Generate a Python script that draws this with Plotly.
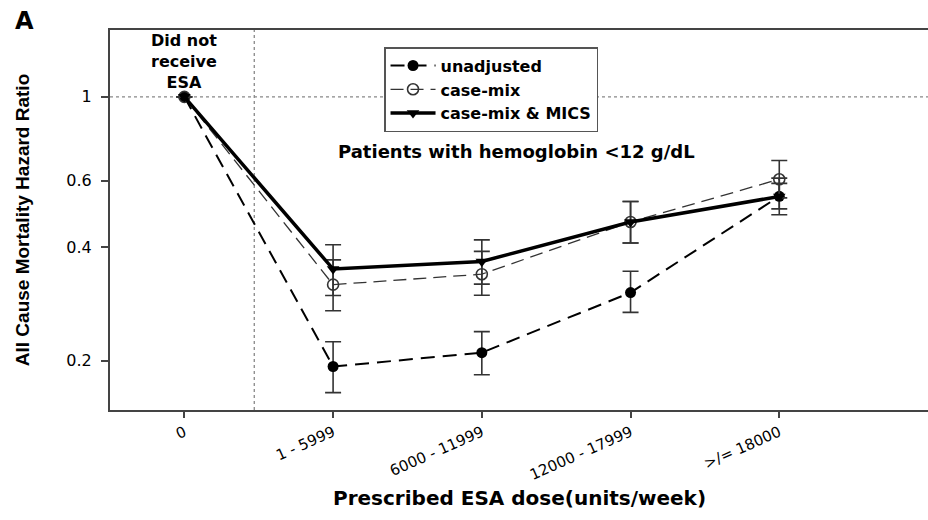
import plotly.graph_objects as go

categories = ["0", "1 - 5999", "6000 - 11999", "12000 - 17999", ">/= 18000"]

unadj = [1.0, 0.193, 0.210, 0.303, 0.545]
unadj_hi = [1.0, 0.2245, 0.2387, 0.345, 0.590]
unadj_lo = [1.0, 0.1646, 0.1836, 0.2686, 0.505]

casemix = [1.0, 0.318, 0.339, 0.466, 0.605]
casemix_hi = [1.0, 0.370, 0.3895, 0.528, 0.678]
casemix_lo = [1.0, 0.2713, 0.298, 0.410, 0.540]

mics = [1.0, 0.3497, 0.3664, 0.466, 0.5446]
mics_hi = [1.0, 0.4056, 0.418, 0.528, 0.609]
mics_lo = [1.0, 0.2977, 0.319, 0.410, 0.487]

y_ticks = [0.2, 0.4, 0.6, 1]
y_ticktext = ["0.2", "0.4", "0.6", "1"]

x_title = "Prescribed ESA dose(units/week)"
y_title = "All Cause Mortality Hazard Ratio"

FONT = "DejaVu Sans"


def err(vals, hi, lo):
    return dict(
        type="data", symmetric=False,
        array=[h - v for h, v in zip(hi, vals)],
        arrayminus=[v - l for v, l in zip(vals, lo)],
        color="#333333", thickness=1.6, width=8,
    )


fig = go.Figure()
fig.add_trace(go.Scatter(
    x=categories, y=unadj, name="unadjusted", mode="lines+markers",
    line=dict(color="black", width=2, dash="14px,8px"),
    marker=dict(symbol="circle", size=11, color="black"),
    error_y=err(unadj, unadj_hi, unadj_lo),
))
fig.add_trace(go.Scatter(
    x=categories, y=casemix, name="case-mix", mode="lines+markers",
    line=dict(color="#333333", width=1.3, dash="13px,7px"),
    marker=dict(symbol="circle-open", size=11, color="#333333", line=dict(width=1.6)),
    error_y=err(casemix, casemix_hi, casemix_lo),
))
fig.add_trace(go.Scatter(
    x=categories, y=mics, name="case-mix & MICS", mode="lines+markers",
    line=dict(color="black", width=3.5),
    marker=dict(symbol="triangle-down", size=11, color="black"),
    error_y=err(mics, mics_hi, mics_lo),
))

# reference lines
fig.add_shape(type="line", xref="paper", yref="y", x0=0, x1=1, y0=1, y1=1,
              line=dict(color="#888888", width=1.3, dash="dot"), layer="below")
fig.add_shape(type="line", xref="x", yref="paper", x0=0.47, x1=0.47, y0=0, y1=1,
              line=dict(color="#888888", width=1.3, dash="dot"), layer="below")

fig.add_annotation(text="<b>A</b>", xref="paper", yref="paper", x=-0.118, y=1.065,
                   xanchor="left", yanchor="top", showarrow=False,
                   font=dict(family=FONT, size=24, color="black"))
fig.add_annotation(text="<b>Did not<br>receive<br>ESA</b>", xref="x", yref="paper",
                   x=0, y=0.918, xanchor="center", yanchor="middle", showarrow=False,
                   font=dict(family=FONT, size=16, color="black"))
fig.add_annotation(text="<b>Patients with hemoglobin &lt;12 g/dL</b>", xref="x", yref="paper",
                   x=2.23, y=0.679, xanchor="center", yanchor="middle", showarrow=False,
                   font=dict(family=FONT, size=18, color="black"))
fig.add_annotation(text="<b>" + x_title + "</b>", xref="paper", yref="paper",
                   x=0.5, y=-0.232, xanchor="center", yanchor="middle", showarrow=False,
                   font=dict(family=FONT, size=20, color="black"))

fig.update_layout(
    width=928, height=520,
    margin=dict(l=110, r=0, t=30, b=110),
    paper_bgcolor="white", plot_bgcolor="white",
    font=dict(family=FONT, color="black"),
    showlegend=True,
    legend=dict(x=0.335, y=0.955, xanchor="left", yanchor="top",
                bordercolor="#555555", borderwidth=1.5, bgcolor="white",
                font=dict(family=FONT, size=16, color="black", weight="bold"),
                itemwidth=45, tracegroupgap=0),
    xaxis=dict(
        type="category", categoryorder="array", categoryarray=categories,
        range=[-0.5, 5.0], showgrid=False, zeroline=False,
        showline=True, linewidth=2, linecolor="#444444", mirror=True,
        ticks="outside", ticklen=6, tickwidth=1.5, tickcolor="#444444",
        tickangle=-24, tickfont=dict(family=FONT, size=15),
    ),
    yaxis=dict(
        type="log", range=[-0.8297, 0.1772], showgrid=False, zeroline=False,
        showline=True, linewidth=2, linecolor="#444444",
        tickvals=y_ticks, ticktext=y_ticktext,
        ticks="outside", ticklen=7, tickwidth=1.5, tickcolor="#444444",
        ticklabelstandoff=6,
        tickfont=dict(family=FONT, size=16),
        title=dict(text="<b>" + y_title + "</b>",
                   font=dict(family="Liberation Sans Narrow, Liberation Sans", size=19),
                   standoff=32),
    ),
)

fig.write_html("out.html")
